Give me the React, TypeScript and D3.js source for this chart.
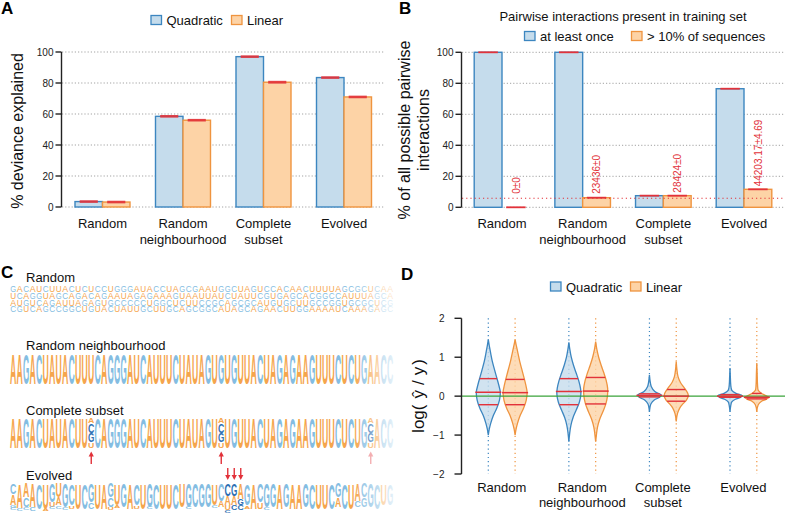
import React from "react";
import * as d3 from "d3";

// ---------------- data ----------------
const categories = ["Random", "Random\nneighbourhood", "Complete\nsubset", "Evolved"];
const yTicksAB = [0, 20, 40, 60, 80, 100];

// Panel A: % deviance explained
const devQuadratic = [3.5, 58.5, 97, 83.5];
const devQuadraticErr = [0.3, 0.6, 0.3, 0.3];
const devLinear = [3.2, 56, 80.5, 71];
const devLinearErr = [0.3, 0.5, 0.9, 0.4];

// Panel B: pairwise interactions present
const pairOnce = [100, 100, 7.5, 76.5];
const pairTenPct = [0, 6.2, 7.5, 11.6];
const pairCounts = ["0\u00b10", "23436\u00b10", "28424\u00b10", "44203.17\u00b14.69"];
const pairThreshold = 5.8;

// Panel D: violins  [value, relative density]
const yTicksD = [-2, -1, 0, 1, 2];
const violinQuadratic: [number, number][][] = [
  [[1.45, 0], [1.3, 0.08], [1.1, 0.2], [0.9, 0.33], [0.7, 0.5], [0.5, 0.68], [0.3, 0.86], [0.1, 1], [-0.1, 0.93], [-0.3, 0.72], [-0.5, 0.42], [-0.7, 0.2], [-0.85, 0.08], [-1.0, 0]],
  [[1.38, 0], [1.2, 0.08], [1.0, 0.2], [0.8, 0.38], [0.6, 0.6], [0.4, 0.82], [0.2, 0.97], [0.05, 1], [-0.15, 0.88], [-0.35, 0.62], [-0.55, 0.35], [-0.75, 0.17], [-0.95, 0.07], [-1.17, 0]],
  [[0.55, 0], [0.4, 0.05], [0.25, 0.15], [0.12, 0.45], [0.05, 0.9], [0.02, 1], [-0.03, 0.85], [-0.1, 0.4], [-0.2, 0.12], [-0.3, 0.04], [-0.4, 0]],
  [[0.72, 0], [0.5, 0.03], [0.3, 0.06], [0.15, 0.15], [0.07, 0.5], [0.02, 1], [-0.03, 0.9], [-0.08, 0.45], [-0.15, 0.15], [-0.25, 0.06], [-0.4, 0]],
];
const violinLinear: [number, number][][] = [
  [[1.45, 0], [1.3, 0.1], [1.1, 0.24], [0.9, 0.38], [0.7, 0.55], [0.5, 0.72], [0.3, 0.88], [0.1, 1], [-0.1, 0.93], [-0.3, 0.72], [-0.5, 0.42], [-0.7, 0.2], [-0.85, 0.08], [-1.0, 0]],
  [[1.4, 0], [1.2, 0.1], [1.0, 0.25], [0.8, 0.45], [0.6, 0.68], [0.4, 0.88], [0.2, 1], [0.0, 0.98], [-0.2, 0.85], [-0.4, 0.6], [-0.6, 0.33], [-0.8, 0.15], [-1.0, 0.06], [-1.17, 0]],
  [[0.89, 0], [0.7, 0.05], [0.5, 0.15], [0.35, 0.35], [0.2, 0.7], [0.08, 0.95], [0.0, 1], [-0.1, 0.85], [-0.2, 0.55], [-0.3, 0.3], [-0.45, 0.1], [-0.65, 0]],
  [[0.85, 0], [0.6, 0.03], [0.3, 0.06], [0.15, 0.12], [0.08, 0.35], [0.02, 0.7], [-0.03, 1], [-0.08, 0.8], [-0.13, 0.4], [-0.22, 0.12], [-0.4, 0]],
];
const quartQuadratic = [[-0.22, 0.1, 0.45], [-0.22, 0.12, 0.45], [-0.02, 0.02, 0.06], [-0.03, 0.0, 0.04]];
const quartLinear = [[-0.22, 0.09, 0.43], [-0.2, 0.13, 0.48], [-0.13, 0.0, 0.17], [-0.07, -0.03, 0.07]];

// Panel C: sequences
const randomSeqs = [
  "GACAUCUUACUCUCCUGGGAUACCUAGCGAAUGGCUAGUCCACAACUUUUAGCGCUCAA",
  "UCAGGUAGCAGACAGAAUAGAGAAAGUAAUUAUCUAUUCGUGAGCACGGCCAUUUAGCA",
  "AUGUCAGAUUAGAGUGCCCCCUGGCUCUUCCGCAGCGCAUGUGCUUGCCGGUGCGCUCG",
  "CGUCAGCCGGCUGUACUAUUGCUUGCAGCGGCAUAGCAGAACUUGGAAAAUCAAAGAGC",
];
const neighbourhoodSeq = "AAGACUAUACUUUCAGGGAUCAUUUCUAUAGUGUGUUACUAGAGAAGUUUCUCUGAACC";
const subsetStackCols = [12, 32, 55];
const subsetStack = "A17C32G31U20";
const evolvedCols = [
  "C35A35G8C6", "A78C10", "A45C30C8", "A75C12", "C80", "U80A6", "G60U15C6", "U45A25C10", "G75C8", "C70U10",
  "U80", "C80", "G60C20", "U80", "A80", "G45C30U8", "U70A8", "G75", "A80", "C70U10",
  "U80", "G75C6", "C80", "U80", "U80", "C80", "U75", "G75C6", "C75", "G75",
  "G75", "U70C8", "C55A20", "C40A30U15C8", "G40A30C15", "A50G20C15", "G70A10", "A80", "C60U20", "G75C8",
  "G75", "A80", "G75", "A80", "A80", "G75", "C80", "U80", "U80", "C80",
  "G45A30", "C80", "U80", "A55C20", "C45G30", "G75", "C80", "U70", "G70",
];
const evolvedArrowCols = [33, 34, 35];

// ---------------- styles ----------------
const FONT = "'Liberation Sans', Arial, Helvetica, sans-serif";
const BLUE_FILL = "#c5dcec";
const BLUE_STROKE = "#3c86c0";
const ORANGE_FILL = "#fdd3a6";
const ORANGE_STROKE = "#ef943f";
const RED = "#e2323a";
const GRID = "#999";
const SEQ_ORANGE = "#f5a54d";
const SEQ_BLUE = "#84bde2";
const SEQ_DARK = "#2d6fb3";

const letterColor = (c: string) => (c === "A" || c === "U" ? SEQ_ORANGE : SEQ_BLUE);

function Glyph({ ch, x, base, w, h, color, bold = true, opacity = 1 }: any) {
  if (h <= 0.3) return null;
  const cap = 7.16;
  return (
    <text
      transform={`translate(${x},${base}) scale(1,${h / cap})`}
      fontSize={10}
      fontFamily={FONT}
      fontWeight={bold ? "bold" : "normal"}
      textLength={w}
      lengthAdjust="spacingAndGlyphs"
      fill={color}
      opacity={opacity}
    >
      {ch}
    </text>
  );
}

function CatLabel({ x, y, label, dy = 16 }: any) {
  const lines = label.split("\n");
  return (
    <text x={x} y={y} textAnchor="middle" fontSize={13} fontFamily={FONT} fill="#111">
      {lines.map((l: string, i: number) => (
        <tspan key={i} x={x} dy={i === 0 ? 0 : dy}>
          {l}
        </tspan>
      ))}
    </text>
  );
}

function LegendItem({ x, y, fill, stroke, label }: any) {
  return (
    <g>
      <rect x={x} y={y} width={10.5} height={9} fill={fill} stroke={stroke} strokeWidth={1.3} />
      <text x={x + 15.5} y={y + 9.5} fontSize={13} fontFamily={FONT} fill="#111">
        {label}
      </text>
    </g>
  );
}

function YAxis({ x, scale, ticks, labelGap = 8, tickLen = 6, fmt = (d: number) => String(d) }: any) {
  const [a, b] = d3.extent(ticks) as [number, number];
  return (
    <g>
      <line x1={x} x2={x} y1={scale(a)} y2={scale(b)} stroke="#222" strokeWidth={1.4} />
      {ticks.map((t: number) => (
        <g key={t}>
          <line x1={x - tickLen} x2={x} y1={scale(t)} y2={scale(t)} stroke="#222" strokeWidth={1.4} />
          <text x={x - labelGap} y={scale(t) + 3.5} textAnchor="end" fontSize={10} fontFamily={FONT} fill="#222">
            {fmt(t)}
          </text>
        </g>
      ))}
    </g>
  );
}

// ---------------- panels ----------------
function PanelA() {
  const x = d3.scalePoint<string>().domain(categories).range([102.5, 344]);
  const sub = d3.scaleBand<string>().domain(["q", "l"]).range([-27.5, 27.5]);
  const y = d3.scaleLinear().domain([0, 100]).range([207, 52]);
  const bw = sub.bandwidth();
  const series = [
    { key: "q", vals: devQuadratic, err: devQuadraticErr, fill: BLUE_FILL, stroke: BLUE_STROKE },
    { key: "l", vals: devLinear, err: devLinearErr, fill: ORANGE_FILL, stroke: ORANGE_STROKE },
  ];
  return (
    <g>
      <text x={1} y={14} fontSize={17} fontWeight="bold" fontFamily={FONT}>A</text>
      <LegendItem x={151} y={15.5} fill={BLUE_FILL} stroke={BLUE_STROKE} label="Quadratic" />
      <LegendItem x={231.5} y={15.5} fill={ORANGE_FILL} stroke={ORANGE_STROKE} label="Linear" />
      {yTicksAB.map((t) => (
        <line key={t} x1={62} x2={385} y1={y(t)} y2={y(t)} stroke={GRID} strokeWidth={0.9} strokeDasharray="1.2,2" />
      ))}
      {series.map((s) =>
        categories.map((c, i) => {
          const bx = (x(c) as number) + (sub(s.key) as number);
          return (
            <g key={s.key + c}>
              <rect x={bx} y={y(s.vals[i])} width={bw} height={y(0) - y(s.vals[i])} fill={s.fill} stroke={s.stroke} strokeWidth={1.4} />
              <rect
                x={bx + bw * 0.17}
                y={Math.min(y(s.vals[i] + s.err[i]), y(s.vals[i]) - 1.3)}
                width={bw * 0.66}
                height={Math.max(y(s.vals[i] - s.err[i]) - y(s.vals[i] + s.err[i]), 2.6)}
                fill={RED}
                opacity={0.9}
              />
            </g>
          );
        })
      )}
      <YAxis x={61.5} scale={y} ticks={yTicksAB} labelGap={8} tickLen={6} />
      <text transform="translate(23,131) rotate(-90)" textAnchor="middle" fontSize={16} fontFamily={FONT} fill="#111">
        % deviance explained
      </text>
      {categories.map((c) => (
        <CatLabel key={c} x={x(c)} y={228} label={c} />
      ))}
    </g>
  );
}

function PanelB() {
  const x = d3.scalePoint<string>().domain(categories).range([502, 744]);
  const sub = d3.scaleBand<string>().domain(["q", "l"]).range([-27.8, 27.8]);
  const y = d3.scaleLinear().domain([0, 100]).range([207.3, 52.3]);
  const bw = sub.bandwidth();
  const series = [
    { key: "q", vals: pairOnce, fill: BLUE_FILL, stroke: BLUE_STROKE },
    { key: "l", vals: pairTenPct, fill: ORANGE_FILL, stroke: ORANGE_STROKE },
  ];
  return (
    <g>
      <text x={399} y={14} fontSize={17} fontWeight="bold" fontFamily={FONT}>B</text>
      <text x={623} y={21} textAnchor="middle" fontSize={13} fontFamily={FONT} fill="#111">
        Pairwise interactions present in training set
      </text>
      <LegendItem x={524.5} y={31.5} fill={BLUE_FILL} stroke={BLUE_STROKE} label="at least once" />
      <LegendItem x={631.5} y={31.5} fill={ORANGE_FILL} stroke={ORANGE_STROKE} label="> 10% of sequences" />
      {yTicksAB.map((t) => (
        <line key={t} x1={462} x2={785} y1={y(t)} y2={y(t)} stroke={GRID} strokeWidth={0.9} strokeDasharray="1.2,2" />
      ))}
      {series.map((s) =>
        categories.map((c, i) => {
          const bx = (x(c) as number) + (sub(s.key) as number);
          return (
            <g key={s.key + c}>
              <rect x={bx} y={y(s.vals[i])} width={bw} height={y(0) - y(s.vals[i])} fill={s.fill} stroke={s.stroke} strokeWidth={1.4} />
              <rect x={bx + bw * 0.15} y={y(s.vals[i]) - 0.9} width={bw * 0.7} height={1.8} fill={RED} />
            </g>
          );
        })
      )}
      <line x1={462} x2={785} y1={y(pairThreshold)} y2={y(pairThreshold)} stroke={RED} strokeWidth={1.1} strokeDasharray="1.2,3" />
      {categories.map((c, i) => {
        const cx = (x(c) as number) + (sub("l") as number) + bw / 2;
        const yy = Math.min(y(pairTenPct[i]), y(6.8)) - 3;
        return (
          <text key={c} transform={`translate(${cx + 3.6},${yy}) rotate(-90)`} fontSize={10} fontFamily={FONT} fill={RED}>
            {pairCounts[i]}
          </text>
        );
      })}
      <YAxis x={461.5} scale={y} ticks={yTicksAB} labelGap={8} tickLen={6} />
      <text transform="translate(410,130) rotate(-90)" textAnchor="middle" fontSize={16} fontFamily={FONT} fill="#111">
        % of all possible pairwise
      </text>
      <text transform="translate(429,130) rotate(-90)" textAnchor="middle" fontSize={16} fontFamily={FONT} fill="#111">
        interactions
      </text>
      {categories.map((c) => (
        <CatLabel key={c} x={x(c)} y={228} label={c} />
      ))}
    </g>
  );
}

function PanelC() {
  const col = d3.scaleLinear().domain([0, 59]).range([10, 393.5]);
  const step = col(1) - col(0);
  const gw = step - 0.2;
  const parseStack = (s: string) => [...s.matchAll(/([ACGU])(\d+)/g)].map((m) => [m[1], +m[2] / 100] as [string, number]);
  const rowBases = [292.3, 298.9, 305.5, 312.1];

  const drawStack = (ci: number, top: number, H: number, letters: [string, number][], dark: boolean, key: string) => {
    let yy = top;
    return letters.map(([ch, f], j) => {
      const h = f * H;
      const g = (
        <Glyph
          key={key + j}
          ch={ch}
          x={col(ci) + 0.1}
          base={yy + h}
          w={gw}
          h={h * 0.97}
          color={dark && (ch === "C" || ch === "G") ? SEQ_DARK : letterColor(ch)}
        />
      );
      yy += h;
      return g;
    });
  };

  const subsetLetters = parseStack(subsetStack);
  const evo = evolvedCols.map(parseStack);

  return (
    <g>
      <text x={1} y={278} fontSize={17} fontWeight="bold" fontFamily={FONT}>C</text>
      <text x={26} y={282} fontSize={13} fontFamily={FONT} fill="#111">Random</text>
      {randomSeqs.map((s, r) =>
        s.split("").map((ch, i) => (
          <Glyph key={`r${r}-${i}`} ch={ch} x={col(i) + 0.2} base={rowBases[r]} w={gw - 0.4} h={6.2} color={letterColor(ch)} bold={false} />
        ))
      )}

      <text x={26} y={349.5} fontSize={13} fontFamily={FONT} fill="#111">Random neighbourhood</text>
      {neighbourhoodSeq.split("").map((ch, i) => (
        <Glyph key={`n${i}`} ch={ch} x={col(i) + 0.1} base={384} w={gw} h={30.5} color={letterColor(ch)} />
      ))}

      <text x={26} y={414.5} fontSize={13} fontFamily={FONT} fill="#111">Complete subset</text>
      {neighbourhoodSeq.split("").map((ch, i) =>
        subsetStackCols.includes(i) ? (
          <g key={`s${i}`}>{drawStack(i, 418, 30, subsetLetters, true, `s${i}`)}</g>
        ) : (
          <Glyph key={`s${i}`} ch={ch} x={col(i) + 0.1} base={448} w={gw} h={30} color={letterColor(ch)} />
        )
      )}
      {subsetStackCols.map((ci, k) => {
        const cx = col(ci) + step / 2;
        return (
          <g key={`ua${ci}`} opacity={k === 2 ? 0.6 : 1}>
            <line x1={cx} x2={cx} y1={464} y2={455} stroke={RED} strokeWidth={1.4} />
            <path d={`M${cx - 2.6},${456.5} L${cx + 2.6},${456.5} L${cx},${451.5} Z`} fill={RED} />
          </g>
        );
      })}

      <text x={26} y={479.5} fontSize={13} fontFamily={FONT} fill="#111">Evolved</text>
      {evo.map((letters, i) => (
        <g key={`e${i}`}>{drawStack(i, 483, 32, letters, evolvedArrowCols.includes(i), `e${i}`)}</g>
      ))}
      {evolvedArrowCols.map((ci) => {
        const cx = col(ci) + step / 2;
        return (
          <g key={`da${ci}`}>
            <line x1={cx} x2={cx} y1={468} y2={476} stroke={RED} strokeWidth={1.4} />
            <path d={`M${cx - 2.6},${475} L${cx + 2.6},${475} L${cx},${480} Z`} fill={RED} />
          </g>
        );
      })}
      <rect x={352} y={284} width={47} height={231} fill="url(#fadeRight)" />
    </g>
  );
}

function PanelD() {
  const x = d3.scalePoint<string>().domain(categories).range([501.7, 743.4]);
  const sub = d3.scalePoint<string>().domain(["q", "l"]).range([-13.4, 13.4]);
  const y = d3.scaleLinear().domain([-2, 2]).range([474, 318.3]);
  const w = d3.scaleLinear().domain([0, 1]).range([0, 12]);
  const series = [
    { key: "q", prof: violinQuadratic, quart: quartQuadratic, fill: BLUE_FILL, stroke: BLUE_STROKE },
    { key: "l", prof: violinLinear, quart: quartLinear, fill: ORANGE_FILL, stroke: ORANGE_STROKE },
  ];
  const items = series.flatMap((s) =>
    categories.map((c, i) => ({ s, cx: (x(c) as number) + (sub(s.key) as number), prof: s.prof[i], quart: s.quart[i], id: s.key + i }))
  );
  return (
    <g>
      <text x={401} y={280} fontSize={17} fontWeight="bold" fontFamily={FONT}>D</text>
      <LegendItem x={550.5} y={282} fill={BLUE_FILL} stroke={BLUE_STROKE} label="Quadratic" />
      <LegendItem x={630.5} y={282} fill={ORANGE_FILL} stroke={ORANGE_STROKE} label="Linear" />
      {items.map((it) => (
        <line key={"v" + it.id} x1={it.cx} x2={it.cx} y1={y(2)} y2={y(-2)} stroke={it.s.stroke} strokeWidth={1.2} strokeDasharray="1.2,3" />
      ))}
      {items.map((it) => {
        const area = d3
          .area<[number, number]>()
          .y((d) => y(d[0]))
          .x0((d) => it.cx - w(d[1]))
          .x1((d) => it.cx + w(d[1]))
          .curve(d3.curveCatmullRom);
        return (
          <path key={"a" + it.id} d={area(it.prof) as string} fill={it.s.fill} fillOpacity={0.8} stroke={it.s.stroke} strokeWidth={1.3} />
        );
      })}
      <line x1={462} x2={785} y1={y(0)} y2={y(0)} stroke="#3aa33a" strokeWidth={1.4} />
      {items.map((it) => {
        const dens = d3.scaleLinear().domain(it.prof.map((p) => p[0])).range(it.prof.map((p) => p[1])).clamp(true);
        return (
          <g key={"q" + it.id}>
            {[it.quart[0], it.quart[2]].map((q, k) => (
              <line key={k} x1={it.cx - w(dens(q))} x2={it.cx + w(dens(q))} y1={y(q)} y2={y(q)} stroke={RED} strokeWidth={1.4} />
            ))}
            <line x1={it.cx - 13} x2={it.cx + 13} y1={y(it.quart[1])} y2={y(it.quart[1])} stroke={RED} strokeWidth={1.5} />
          </g>
        );
      })}
      <YAxis x={461.5} scale={y} ticks={yTicksD} labelGap={17} tickLen={7} fmt={(d: number) => (d < 0 ? "\u2212" + Math.abs(d) : String(d))} />
      <text transform="translate(424,396) rotate(-90)" textAnchor="middle" fontSize={17} fontFamily={FONT} fill="#111">
        <tspan>log(</tspan>
        <tspan dx={6}>ŷ</tspan>
        <tspan dx={5}>/</tspan>
        <tspan dx={5}>y</tspan>
        <tspan dx={2}>)</tspan>
      </text>
      {categories.map((c) => (
        <CatLabel key={c} x={x(c)} y={491.5} label={c} dy={15.5} />
      ))}
    </g>
  );
}

export default function App() {
  return (
    <svg width={785} height={515} style={{ position: "absolute", left: 0, top: 0, background: "#fff" }}>
      <defs>
        <linearGradient id="fadeRight" x1="0" x2="1" y1="0" y2="0">
          <stop offset="0" stopColor="#fff" stopOpacity={0} />
          <stop offset="1" stopColor="#fff" stopOpacity={0.88} />
        </linearGradient>
      </defs>
      <rect width={785} height={515} fill="#fff" />
      <PanelA />
      <PanelB />
      <PanelC />
      <PanelD />
    </svg>
  );
}
